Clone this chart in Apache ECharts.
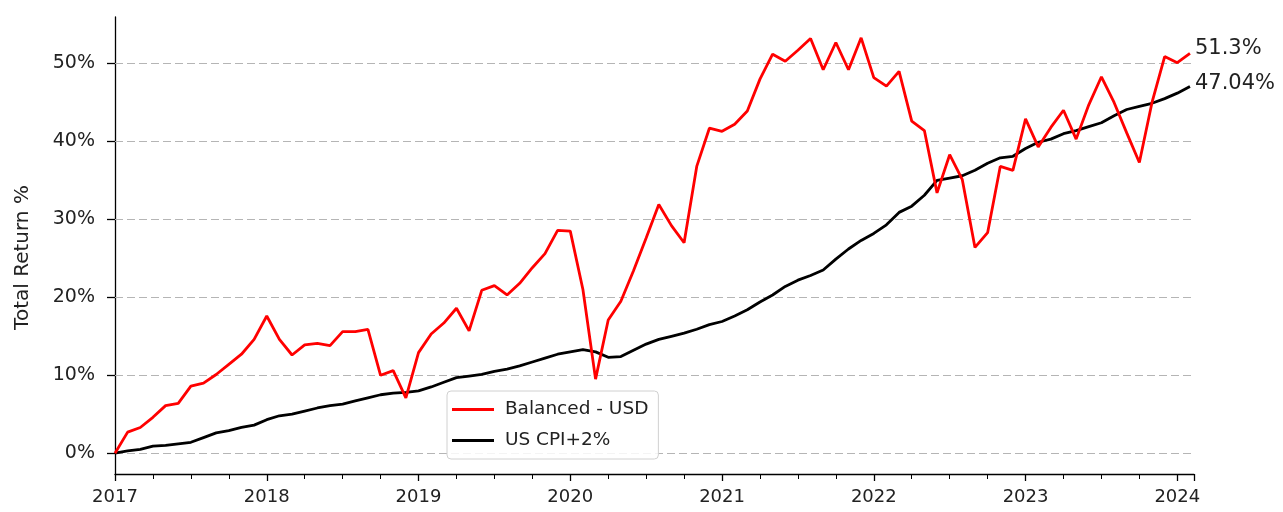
<!DOCTYPE html>
<html>
<head>
<meta charset="utf-8">
<script src="https://cdn.jsdelivr.net/npm/echarts@6/dist/echarts.min.js"></script>
<style>
  html, body { margin: 0; padding: 0; background: #fff; }
  #main { width: 1283px; height: 512px; }
</style>
</head>
<body>
<div id="main"></div>
<script>
// monthly data, first point = start of 2017
var startYear = 2017;
var seriesNames = ["Balanced - USD", "US CPI+2%"];
var endLabels = ["51.3%", "47.04%"];

var balanced = [
  0.0, 2.7, 3.3, 4.6, 6.1, 6.4, 8.6, 9.0, 10.1, 11.4, 12.7, 14.6,
  17.6, 14.6, 12.6, 13.9, 14.1, 13.8, 15.6, 15.6, 15.9, 10.0, 10.6, 7.1,
  12.9, 15.3, 16.7, 18.6, 15.7, 20.9, 21.5, 20.3, 21.8, 23.8, 25.6, 28.6,
  28.5, 21.0, 9.5, 17.1, 19.5, 23.4, 27.6, 31.9, 29.2, 27.0, 36.8, 41.7,
  41.3, 42.2, 43.9, 48.0, 51.2, 50.3, 51.7, 53.2, 49.2, 52.7, 49.2, 53.3,
  48.2, 47.1, 49.0, 42.6, 41.4, 33.4, 38.3, 35.1, 26.4, 28.3, 36.8, 36.3,
  42.9, 39.3, 41.8, 44.0, 40.3, 44.7, 48.3, 45.0, 41.1, 37.3, 45.0, 50.9,
  50.1, 51.3
];

var cpiPlus2 = [
  0.0, 0.3, 0.5, 0.9, 1.0, 1.2, 1.4, 2.0, 2.6, 2.9, 3.3, 3.6,
  4.3, 4.8, 5.0, 5.4, 5.8, 6.1, 6.3, 6.7, 7.1, 7.5, 7.7, 7.8,
  8.0, 8.5, 9.1, 9.7, 9.9, 10.1, 10.5, 10.8, 11.2, 11.7, 12.2, 12.7,
  13.0, 13.3, 13.0, 12.3, 12.4, 13.2, 14.0, 14.6, 15.0, 15.4, 15.9, 16.5,
  16.9, 17.6, 18.4, 19.4, 20.3, 21.4, 22.2, 22.8, 23.5, 24.9, 26.2, 27.3,
  28.2, 29.3, 30.9, 31.7, 33.1, 35.0, 35.3, 35.6, 36.3, 37.2, 37.9, 38.1,
  39.1, 39.9, 40.3, 41.0, 41.4, 41.9, 42.4, 43.3, 44.1, 44.5, 44.9, 45.5,
  46.2, 47.04
];

var yTicks = [0, 10, 20, 30, 40, 50];

function toPairs(arr) {
  return arr.map(function (v, i) { return [startYear + i / 12, v]; });
}

var font = "DejaVu Sans";
var myChart = echarts.init(document.getElementById("main"));

var option = {
  animation: false,
  textStyle: { fontFamily: font },
  grid: { left: 115, right: 89, top: 17, bottom: 38 },
  legend: {
    data: seriesNames,
    orient: "vertical",
    left: 447,
    top: 391,
    icon: "rect",
    itemWidth: 42,
    itemHeight: 3,
    itemGap: 12,
    padding: [9, 10, 9, 5],
    borderColor: "#d0d0d0",
    borderWidth: 1,
    borderRadius: 4,
    backgroundColor: "rgba(255,255,255,0.85)",
    formatter: function (name) { return " " + name; },
    textStyle: { fontFamily: font, fontSize: 18.5, color: "#222" }
  },
  xAxis: {
    type: "value",
    min: 2017,
    max: 2024.11,
    interval: 1,
    axisLine: { onZero: false, lineStyle: { color: "#000", width: 1.3 } },
    axisTick: { length: 7, lineStyle: { color: "#000", width: 1.3 } },
    minorTick: { show: true, splitNumber: 4, length: 5, lineStyle: { color: "#000", width: 1 } },
    axisLabel: {
      margin: 14, fontSize: 18, color: "#222", fontFamily: font,
      formatter: function (v) { return Math.abs(v - Math.round(v)) < 1e-6 ? String(Math.round(v)) : ""; }
    },
    splitLine: { show: false }
  },
  yAxis: {
    type: "value",
    min: -2.67,
    max: 55.97,
    name: "Total Return %",
    nameLocation: "middle",
    nameGap: 82,
    nameTextStyle: { fontSize: 20, color: "#222", fontFamily: font, padding: [0, 24, 0, 0] },
    axisLine: { show: true, onZero: false, lineStyle: { color: "#000", width: 1.3 } },
    axisTick: { show: true, length: 8, customValues: yTicks, lineStyle: { color: "#000", width: 1.3 } },
    axisLabel: {
      margin: 20, fontSize: 19, color: "#222", fontFamily: font,
      customValues: yTicks,
      formatter: function (v) { return v + "%"; }
    },
    splitLine: { show: false }
  },
  series: [
    {
      name: seriesNames[0],
      type: "line",
      data: toPairs(balanced),
      showSymbol: false,
      color: "#ff0000",
      lineStyle: { width: 2.8, color: "#ff0000" },
      z: 3,
      endLabel: {
        show: true, formatter: endLabels[0], distance: 5, offset: [0, -5],
        fontSize: 21, color: "#222", fontFamily: font
      },
      markLine: {
        silent: true,
        symbol: "none",
        label: { show: false },
        lineStyle: { color: "#b5b5b5", type: [8, 4], width: 1.2 },
        data: yTicks.map(function (t) { return { yAxis: t }; }),
        z: 1
      }
    },
    {
      name: seriesNames[1],
      type: "line",
      data: toPairs(cpiPlus2),
      showSymbol: false,
      color: "#000000",
      lineStyle: { width: 2.8, color: "#000000" },
      z: 2,
      endLabel: {
        show: true, formatter: endLabels[1], distance: 5, offset: [0, -3],
        fontSize: 21, color: "#222", fontFamily: font
      }
    }
  ]
};

myChart.setOption(option);
</script>
</body>
</html>
